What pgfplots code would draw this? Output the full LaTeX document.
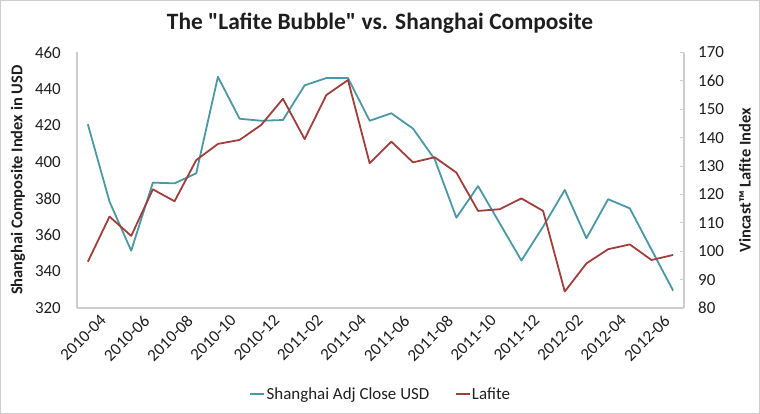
\documentclass[border=0pt]{standalone}
\usepackage{pgfplots}
\pgfplotsset{compat=1.18}
\usepackage{fontspec}
\setmainfont{Carlito}[Ligatures=TeXOff]
\definecolor{teal1}{RGB}{74,152,164}
\definecolor{red1}{RGB}{160,62,60}
\definecolor{axgray}{RGB}{205,205,205}
\definecolor{txt}{RGB}{30,30,30}

\pgfplotstableread{
i sh lf
0 420.7 96.3
1 378.3 112.2
2 351.4 105.4
3 388.7 121.8
4 388.3 117.6
5 393.8 132.1
6 446.7 137.8
7 423.7 139.2
8 422.6 144.5
9 423.0 153.7
10 442.0 139.5
11 446.0 155.0
12 446.0 160.3
13 422.6 131.0
14 426.7 138.6
15 418.3 131.3
16 401.5 133.1
17 369.5 127.7
18 386.8 114.2
19 366.4 114.8
20 346.0 118.6
21 364.6 114.2
22 384.7 85.8
23 358.2 95.7
24 379.6 100.7
25 374.6 102.4
26 352.0 96.9
27 329.5 98.7
}\datatable

\begin{document}
\begin{tikzpicture}
\useasboundingbox (0bp,0bp) rectangle (760bp,414bp);
\draw[axgray, line width=1.2bp] (0.6bp,0.6bp) rectangle (759.4bp,413.4bp);
\node[font=\bfseries\fontsize{23.5}{27}\selectfont, text=txt] at (380bp,391bp) {The "Lafite Bubble" vs. Shanghai Composite};

\begin{axis}[
  at={(77bp,106bp)}, anchor=south west,
  scale only axis, width=607bp, height=255.5bp,
  xmin=-0.5, xmax=27.5, ymin=320, ymax=460,
  axis x line*=bottom, axis y line*=left,
  axis line style={axgray, line width=1.2bp},
  ytick={320,340,...,460},
  xtick={0,2,...,26},
  xticklabels={2010-04,2010-06,2010-08,2010-10,2010-12,2011-02,2011-04,2011-06,2011-08,2011-10,2011-12,2012-02,2012-04,2012-06},
  major tick length=0pt,
  tick label style={font=\fontsize{17}{20}\selectfont, text=txt},
  /pgf/number format/assume math mode=true,
  yticklabel style={inner sep=0pt, anchor=east, xshift=-16bp},
  xticklabel style={rotate=45, anchor=north east, inner sep=0pt, yshift=-12bp, xshift=4bp},
  ylabel={Shanghai Composite Index in USD},
  ylabel style={at={(axis description cs:-0.097,0.5)}, anchor=center, font=\bfseries\fontsize{16.5}{19}\selectfont, text=txt},
]
\addplot[teal1, line width=1.8bp, line join=round] table[x=i, y=sh] {\datatable};
\end{axis}

\begin{axis}[
  at={(77bp,106bp)}, anchor=south west,
  scale only axis, width=607bp, height=255.5bp,
  xmin=-0.5, xmax=27.5, ymin=80, ymax=170,
  axis x line=none, axis y line*=right,
  axis line style={axgray, line width=1.2bp},
  ytick={80,90,...,170},
  tick align=inside, major tick length=4bp,
  tick style={axgray, line width=1bp},
  tick label style={font=\fontsize{17}{20}\selectfont, text=txt},
  /pgf/number format/assume math mode=true,
  yticklabel style={inner sep=0pt, anchor=west, xshift=14bp},
  ylabel={Vincast™ Lafite Index},
  ylabel style={at={(axis description cs:1.1005,0.5)}, anchor=center, rotate=0, font=\bfseries\fontsize{16.5}{19}\selectfont, text=txt},
  legend columns=2,
  legend style={at={(axis description cs:0.5,-0.337)}, anchor=center, draw=none, fill=none,
    font=\fontsize{17}{20}\selectfont, text=txt,
    /tikz/every odd column/.append style={column sep=0bp},
    /tikz/every even column/.append style={column sep=24bp},
    nodes={inner xsep=1.5bp}},
  legend image code/.code={\draw[#1, line width=1.6bp] (0bp,0bp) -- (14bp,0bp);},
]
\addlegendimage{teal1}
\addlegendentry{Shanghai Adj Close USD}
\addplot[red1, line width=1.8bp, line join=round] table[x=i, y=lf] {\datatable};
\addlegendentry{Lafite}
\end{axis}
\end{tikzpicture}
\end{document}
